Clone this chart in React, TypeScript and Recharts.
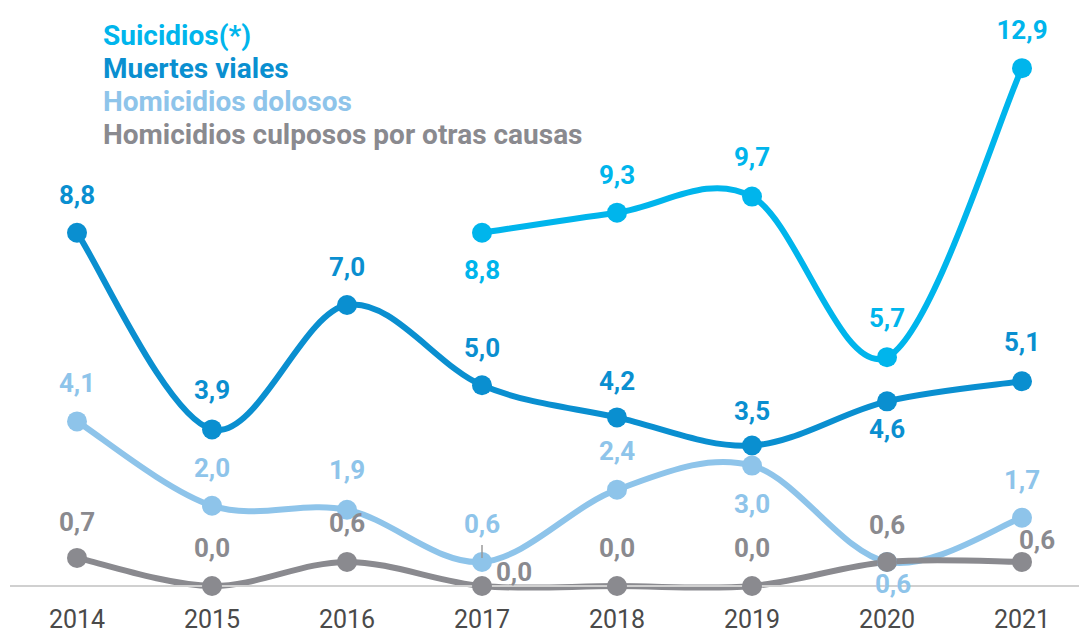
import React from 'react';
import { LineChart, Line, XAxis, YAxis, LabelList } from 'recharts';

const years = ['2014', '2015', '2016', '2017', '2018', '2019', '2020', '2021'];
const suicidios = [null, null, null, 8.8, 9.3, 9.7, 5.7, 12.9];
const muertesViales = [8.8, 3.9, 7.0, 5.0, 4.2, 3.5, 4.6, 5.1];
const homicidiosDolosos = [4.1, 2.0, 1.9, 0.6, 2.4, 3.0, 0.6, 1.7];
const homicidiosCulposos = [0.7, 0.0, 0.6, 0.0, 0.0, 0.0, 0.6, 0.6];

const seriesNames = [
  'Suicidios(*)',
  'Muertes viales',
  'Homicidios dolosos',
  'Homicidios culposos por otras causas',
];

// label offsets [dx, dy] from each point
const suicidiosLabelPos = [[0, 0], [0, 0], [0, 0], [0, 37], [0, -38], [0, -40], [0, -39], [0, -38]];
const viasLabelPos = [[0, -38], [0, -39], [0, -38], [0, -37], [0, -36], [0, -35], [0, 28], [0, -39]];
const dolososLabelPos = [[0, -38], [0, -38], [0, -40], [0, -38], [0, -39], [0, 38], [6, 22], [0, -38]];
const culpososLabelPos = [[0, -36], [0, -38], [0, -39], [32, -14], [0, -38], [0, -38], [0, -37], [15, -22]];
// small leader tick under a label (2017 homicidios dolosos)
const dolososLeader = [false, false, false, true, false, false, false, false];

const COLORS = ['#00b5ec', '#0a8fd0', '#8ec4ea', '#8a8a8f'];

const data = years.map((year, i) => ({
  year,
  suicidios: suicidios[i],
  viales: muertesViales[i],
  dolosos: homicidiosDolosos[i],
  culposos: homicidiosCulposos[i],
}));

// catmull-rom style curve, similar to the source's smoothing
const smoothCurve = (context: any) => {
  let pts: number[][] = [];
  const k = 1 / 6;
  return {
    areaStart() {},
    areaEnd() {},
    lineStart() {
      pts = [];
    },
    lineEnd() {
      if (!pts.length) return;
      context.moveTo(pts[0][0], pts[0][1]);
      for (let i = 0; i < pts.length - 1; i++) {
        const p0 = pts[i - 1] || pts[i];
        const p1 = pts[i];
        const p2 = pts[i + 1];
        const p3 = pts[i + 2] || p2;
        context.bezierCurveTo(
          p1[0] + (p2[0] - p0[0]) * k,
          p1[1] + (p2[1] - p0[1]) * k,
          p2[0] - (p3[0] - p1[0]) * k,
          p2[1] - (p3[1] - p1[1]) * k,
          p2[0],
          p2[1]
        );
      }
    },
    point(x: number, y: number) {
      pts.push([+x, +y]);
    },
  };
};

const FONT = 'Roboto, "Open Sans", sans-serif';

const makeLabel = (offsets: number[][], color: string, leader?: boolean[]) => (props: any) => {
  const { x, y, value, index } = props;
  if (value === null || value === undefined) return null;
  const [dx, dy] = offsets[index] || [0, -38];
  return (
    <g>
      {leader && leader[index] && (
        <line x1={x} x2={x} y1={y - 17} y2={y - 4} stroke="#9a9a9a" strokeWidth={1.5} />
      )}
      <text
        x={x + dx}
        y={y + dy}
        textAnchor="middle"
        dominantBaseline="central"
        fill={color}
        style={{ fontFamily: FONT, fontWeight: 700, fontSize: 26 }}
      >
        {Number(value).toFixed(1).replace('.', ',')}
      </text>
    </g>
  );
};

const App: React.FC = () => {
  return (
    <div style={{ position: 'absolute', left: 0, top: 0, width: 1079, height: 635, background: '#fff' }}>
      <LineChart
        width={1079}
        height={635}
        data={data}
        margin={{ top: 24, right: 0, bottom: 0, left: 10 }}
      >
        <XAxis
          dataKey="year"
          height={49}
          padding={{ left: 67, right: 57 }}
          axisLine={{ stroke: '#d0d0d0', strokeWidth: 2 }}
          tickLine={false}
          tickMargin={18}
          tick={{ fill: '#4a4a4a', fontSize: 25, fontFamily: FONT }}
          interval={0}
        />
        <YAxis hide domain={[0, 14]} />
        <Line
          dataKey="suicidios"
          type={smoothCurve as any}
          stroke={COLORS[0]}
          strokeWidth={6}
          dot={{ r: 10, fill: COLORS[0], stroke: 'none' }}
          isAnimationActive={false}
        >
          <LabelList dataKey="suicidios" content={makeLabel(suicidiosLabelPos, COLORS[0])} />
        </Line>
        <Line
          dataKey="viales"
          type={smoothCurve as any}
          stroke={COLORS[1]}
          strokeWidth={6}
          dot={{ r: 10, fill: COLORS[1], stroke: 'none' }}
          isAnimationActive={false}
        >
          <LabelList dataKey="viales" content={makeLabel(viasLabelPos, COLORS[1])} />
        </Line>
        <Line
          dataKey="dolosos"
          type={smoothCurve as any}
          stroke={COLORS[2]}
          strokeWidth={6}
          dot={{ r: 10, fill: COLORS[2], stroke: 'none' }}
          isAnimationActive={false}
        >
          <LabelList dataKey="dolosos" content={makeLabel(dolososLabelPos, COLORS[2], dolososLeader)} />
        </Line>
        <Line
          dataKey="culposos"
          type={smoothCurve as any}
          stroke={COLORS[3]}
          strokeWidth={6}
          dot={{ r: 10, fill: COLORS[3], stroke: 'none' }}
          isAnimationActive={false}
        >
          <LabelList dataKey="culposos" content={makeLabel(culpososLabelPos, COLORS[3])} />
        </Line>
      </LineChart>
      <div
        style={{
          position: 'absolute',
          left: 103,
          top: 19,
          fontFamily: FONT,
          fontWeight: 700,
          fontSize: 28,
          lineHeight: '33px',
          whiteSpace: 'nowrap',
        }}
      >
        {seriesNames.map((name, i) => (
          <div key={name} style={{ color: COLORS[i] }}>
            {name}
          </div>
        ))}
      </div>
    </div>
  );
};

export default App;
